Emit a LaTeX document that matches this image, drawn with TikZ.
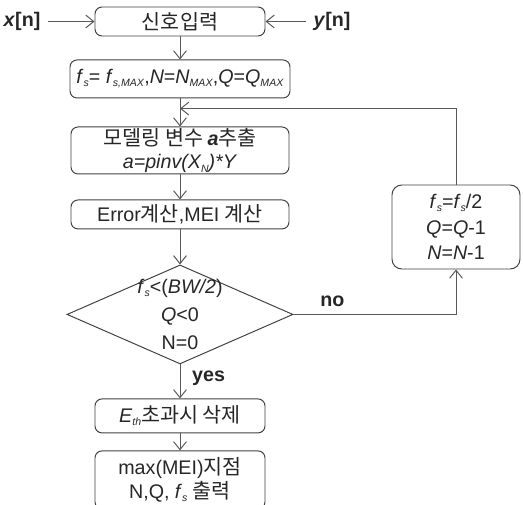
\documentclass[tikz,border=0pt]{standalone}
\usepackage{fontspec}
\setmainfont{Liberation Sans}
\newfontfamily\kr[Scale=1.05]{Noto Sans CJK KR}
\usepackage{tikz}
\usetikzlibrary{calc,positioning,shapes,arrows.meta}
\newcommand{\lo}[1]{\raisebox{-0.3ex}{\fontsize{7.5}{8}\selectfont\textit{#1}}}

\begin{document}
\begin{tikzpicture}[
	every node/.style={font=\fontsize{14}{17}\selectfont,text=black!85},
	box/.style={shape=rectangle,draw=black!75,line width=0.7pt,rounded corners=5pt,align=center,inner sep=0pt},
	flow/.style={draw=black!65,line width=0.7pt,-{Straight Barb[length=2mm,width=3.2mm]}}]
		\useasboundingbox (0,0) rectangle (13.075,-12.625);
		\node(in) [box,minimum width=4.25cm,minimum height=0.725cm] at (4.5,-0.5375) {\kr 신호입력};
		\node(xn) at (0.55,-0.5375) [inner sep=5pt] {\textbf{\textit{x}[n]}};
		\node(yn) at (8.3,-0.5375) [inner sep=5pt] {\textbf{\textit{y}[n]}};
		\node(par) [below=0.575 of in,box,minimum width=5.5cm,minimum height=0.95cm] {\textit{f}\lo{s}= \textit{f}\lo{s,MAX},\textit{N}=\textit{N}\lo{MAX},\textit{Q}=\textit{Q}\lo{MAX}};
		\node(model) [below=0.7 of par,box,minimum width=5.45cm,minimum height=1.175cm] {{\kr 모델링 변수 }\textbf{\textit{a}}{\kr 추출}\\\textit{a=pinv(X\lo{N})*Y}};
		\node(err) [below=0.625 of model,box,minimum width=5.45cm,minimum height=0.725cm] {Error{\kr 계산},MEI {\kr 계산}};
		\node(cond) [below=0.875 of err,shape=diamond,draw=black!75,line width=0.7pt,inner sep=0pt,minimum width=5.65cm,minimum height=2.475cm] {};
		\node(condtxt) at (cond) [align=center,font=\fontsize{14}{20}\selectfont] {\textit{f}\lo{s}<(\textit{BW/2})\\\textit{Q}<0\\N=0};
		\node(del) [below=0.85 of cond,box,minimum width=4.25cm,minimum height=0.85cm] {\textit{E}\lo{th}{\kr 초과시 삭제}};
		\node(out) [below=0.425 of del,box,minimum width=4.25cm,minimum height=1.45cm] {max(MEI){\kr 지점}\\N,Q, \textit{f}\lo{s} {\kr 출력}};
		\node(upd) at (11.4,-5.675) [box,rounded corners=7pt,minimum width=3.2cm,minimum height=2.1cm,font=\fontsize{14}{18}\selectfont] {\textit{f}\lo{s}=\textit{f}\lo{s}/2\\\textit{Q}=\textit{Q}-1\\\textit{N}=\textit{N}-1};
		\coordinate(join) at ($(par.south)!0.36!(model.north)$);
		\draw[flow] (xn) -- (in);
		\draw[flow] (yn) -- (in);
		\draw[flow] (in) -- (par);
		\draw[flow] (par) -- (model);
		\draw[flow] (model) -- (err);
		\draw[flow] (err) -- (cond);
		\draw[flow] (cond) -- (del) node[pos=0.4,right=5pt,font=\fontsize{14}{17}\selectfont\bfseries] {yes};
		\draw[flow] (del) -- (out);
		\draw[flow] (cond.east) -| (upd.south) node[pos=0.12,above=2pt,font=\fontsize{14}{17}\selectfont\bfseries] {no};
		\draw[flow] (upd.north) |- (join);
	\end{tikzpicture}
\end{document}
